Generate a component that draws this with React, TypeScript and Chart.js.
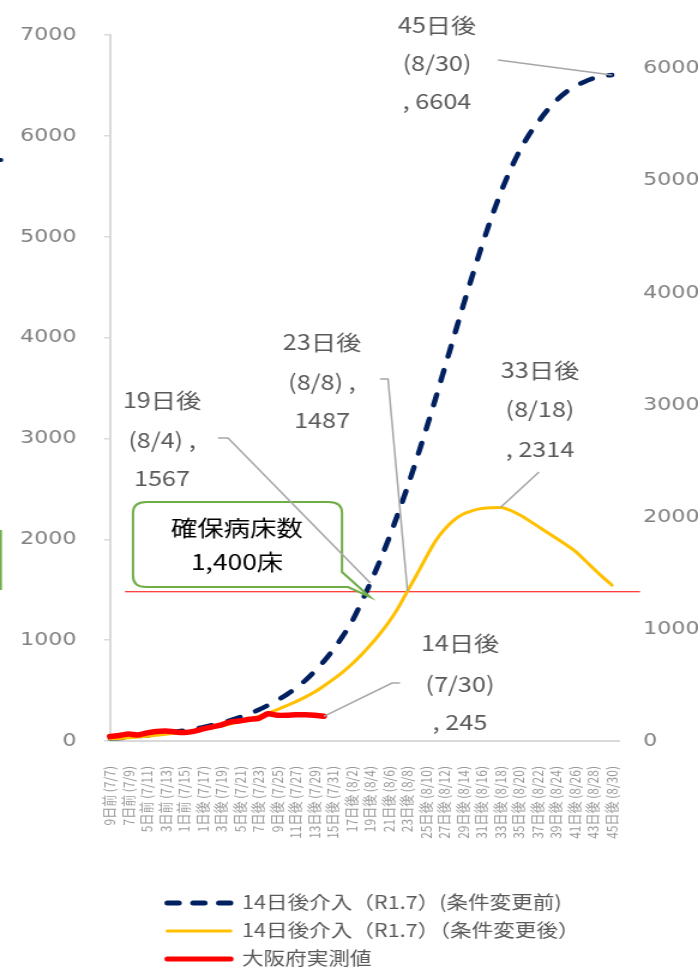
import React, { useEffect, useRef } from 'react';
import { Chart, registerables } from 'chart.js';

Chart.register(...registerables);

// ---------- data ----------
const CATEGORIES = [
  '9日前 (7/7)', '8日前 (7/8)', '7日前 (7/9)', '6日前 (7/10)', '5日前 (7/11)', '4日前 (7/12)', '3日前 (7/13)', '2日前 (7/14)', '1日前 (7/15)', '0日 (7/16)',
  '1日後 (7/17)', '2日後 (7/18)', '3日後 (7/19)', '4日後 (7/20)', '5日後 (7/21)', '6日後 (7/22)', '7日後 (7/23)', '8日後 (7/24)', '9日後 (7/25)', '10日後 (7/26)',
  '11日後 (7/27)', '12日後 (7/28)', '13日後 (7/29)', '14日後 (7/30)', '15日後 (7/31)', '16日後 (8/1)', '17日後 (8/2)', '18日後 (8/3)', '19日後 (8/4)', '20日後 (8/5)',
  '21日後 (8/6)', '22日後 (8/7)', '23日後 (8/8)', '24日後 (8/9)', '25日後 (8/10)', '26日後 (8/11)', '27日後 (8/12)', '28日後 (8/13)', '29日後 (8/14)', '30日後 (8/15)',
  '31日後 (8/16)', '32日後 (8/17)', '33日後 (8/18)', '34日後 (8/19)', '35日後 (8/20)', '36日後 (8/21)', '37日後 (8/22)', '38日後 (8/23)', '39日後 (8/24)', '40日後 (8/25)',
  '41日後 (8/26)', '42日後 (8/27)', '43日後 (8/28)', '44日後 (8/29)', '45日後 (8/30)',
];

// 14日後介入（R1.7）(条件変更前)
const BEFORE = [
  25, 30, 38, 47, 57, 68, 80, 92, 105, 120,
  137, 157, 180, 206, 236, 270, 310, 355, 405, 460,
  525, 600, 690, 790, 905, 1035, 1180, 1365, 1567, 1780,
  2010, 2260, 2520, 2800, 3090, 3390, 3700, 4010, 4320, 4620,
  4910, 5180, 5430, 5650, 5840, 6000, 6130, 6250, 6350, 6430,
  6490, 6535, 6570, 6592, 6604,
];

// 14日後介入（R1.7）（条件変更後）
const AFTER = [
  20, 25, 32, 40, 48, 57, 67, 78, 90, 103,
  117, 133, 150, 170, 192, 217, 245, 277, 312, 350,
  390, 435, 485, 545, 610, 680, 760, 850, 950, 1060,
  1180, 1320, 1487, 1650, 1820, 1980, 2100, 2190, 2250, 2285,
  2305, 2313, 2314, 2290, 2245, 2190, 2130, 2070, 2010, 1950,
  1885, 1800, 1710, 1625, 1545,
];

// 大阪府実測値
const ACTUAL = [
  45, 55, 70, 60, 80, 95, 100, 90, 85, 95,
  120, 140, 160, 190, 200, 215, 225, 270, 255, 255,
  260, 260, 255, 245,
];

const LEGEND_LABELS = [
  '14日後介入（R1.7）(条件変更前)',
  '14日後介入（R1.7）（条件変更後）',
  '大阪府実測値',
];

const LEFT_TICKS = [0, 1000, 2000, 3000, 4000, 5000, 6000, 7000];
const RIGHT_TICKS = [0, 1000, 2000, 3000, 4000, 5000, 6000];
const LEFT_MAX = 7000;
const RIGHT_MAX = 6300;
const BED_LINE_VALUE = 1480;
const CALLOUT_LINES = ['確保病床数', '1,400床'];

// ---------- layout helpers ----------
const CANVAS_W = 582;
const CANVAS_H = 967;
const S = 698 / CANVAS_W; // horizontal stretch of the picture
const px = (X: number) => X / S;

const NAVY = '#002060';
const YELLOW = '#ffc000';
const RED = '#ff0000';
const GREEN = '#70ad47';
const AXIS_GRAY = '#d9d9d9';
const TEXT_GRAY = '#595959';
const LEADER_GRAY = '#a6a6a6';
const JP = '"Noto Sans CJK JP", "Noto Sans", sans-serif';

type Ann = { ds: number; idx: number; lines: string[]; cx: number; ys: number[]; leader: number[][] };

const ANNOTATIONS: Ann[] = [
  { ds: 0, idx: 54, lines: ['45日後', '(8/30)', ', ' + BEFORE[54]], cx: 437, ys: [25, 63, 101], leader: [[498, 60]] },
  { ds: 1, idx: 32, lines: ['23日後', '(8/8) ,', String(AFTER[32])], cx: 322, ys: [342, 382, 420], leader: [[380, 379], [388, 379]] },
  { ds: 0, idx: 28, lines: ['19日後', '(8/4) ,', String(BEFORE[28])], cx: 162, ys: [400, 440, 478], leader: [[218, 438], [228, 438]] },
  { ds: 1, idx: 42, lines: ['33日後', '(8/18)', ', ' + AFTER[42]], cx: 540, ys: [370, 409, 449], leader: [[539, 472]] },
  { ds: 2, idx: 23, lines: ['14日後', '(7/30)', ', ' + ACTUAL[23]], cx: 460, ys: [643, 684, 722], leader: [[400, 683], [392, 683]] },
];

const overlayPlugin = {
  id: 'overlay',
  beforeDatasetsDraw(chart: any) {
    const ctx = chart.ctx as CanvasRenderingContext2D;
    const { left, bottom } = chart.chartArea;
    ctx.save();
    ctx.strokeStyle = AXIS_GRAY;
    ctx.lineWidth = 2;
    ctx.beginPath();
    ctx.moveTo(left, bottom);
    ctx.lineTo(px(620), bottom);
    ctx.stroke();
    const yb = chart.scales.y.getPixelForValue(BED_LINE_VALUE);
    ctx.strokeStyle = RED;
    ctx.lineWidth = 1.2;
    ctx.beginPath();
    ctx.moveTo(px(125), yb);
    ctx.lineTo(px(640), yb);
    ctx.stroke();
    ctx.restore();
  },
  afterDatasetsDraw(chart: any) {
    const ctx = chart.ctx as CanvasRenderingContext2D;
    ctx.save();

    // callout box
    const L = px(133), R = px(342), T = 502, B = 587, r = 11;
    ctx.beginPath();
    ctx.moveTo(L + r, T);
    ctx.lineTo(R - r, T);
    ctx.quadraticCurveTo(R, T, R, T + r);
    ctx.lineTo(R, 572);
    ctx.lineTo(px(370), 597);
    ctx.lineTo(px(348), B);
    ctx.lineTo(L + r, B);
    ctx.quadraticCurveTo(L, B, L, B - r);
    ctx.lineTo(L, T + r);
    ctx.quadraticCurveTo(L, T, L + r, T);
    ctx.closePath();
    ctx.fillStyle = '#ffffff';
    ctx.fill();
    ctx.strokeStyle = GREEN;
    ctx.lineWidth = 2;
    ctx.stroke();
    ctx.fillStyle = '#000000';
    ctx.font = `22px ${JP}`;
    ctx.textAlign = 'center';
    ctx.textBaseline = 'middle';
    ctx.fillText(CALLOUT_LINES[0], px(237), 528);
    ctx.fillText(CALLOUT_LINES[1], px(237), 562);

    // data labels with leaders
    ctx.font = `21px ${JP}`;
    ANNOTATIONS.forEach((a) => {
      const pt = chart.getDatasetMeta(a.ds).data[a.idx];
      ctx.strokeStyle = LEADER_GRAY;
      ctx.lineWidth = 1.5;
      ctx.beginPath();
      a.leader.forEach((p, i) => {
        if (i === 0) ctx.moveTo(px(p[0]), p[1]);
        else ctx.lineTo(px(p[0]), p[1]);
      });
      ctx.lineTo(pt.x, pt.y);
      ctx.stroke();
      ctx.fillStyle = TEXT_GRAY;
      a.lines.forEach((t, i) => ctx.fillText(t, px(a.cx), a.ys[i]));
    });

    // legend
    const lx0 = px(165), lx1 = px(233), tx = px(242);
    ctx.lineCap = 'round';
    ctx.strokeStyle = NAVY;
    ctx.lineWidth = 5;
    ctx.setLineDash([9.5, 12]);
    ctx.beginPath();
    ctx.moveTo(lx0 + 2, 903);
    ctx.lineTo(lx1, 903);
    ctx.stroke();
    ctx.setLineDash([]);
    ctx.strokeStyle = YELLOW;
    ctx.lineWidth = 3;
    ctx.beginPath();
    ctx.moveTo(lx0 + 2, 931);
    ctx.lineTo(lx1 - 2, 931);
    ctx.stroke();
    ctx.strokeStyle = RED;
    ctx.lineWidth = 5;
    ctx.beginPath();
    ctx.moveTo(lx0 + 2, 959);
    ctx.lineTo(lx1 - 2, 959);
    ctx.stroke();
    ctx.fillStyle = TEXT_GRAY;
    ctx.font = `18px ${JP}`;
    ctx.textAlign = 'left';
    ctx.fillText(LEGEND_LABELS[0], tx, 902);
    ctx.fillText(LEGEND_LABELS[1], tx, 930);
    ctx.fillText(LEGEND_LABELS[2], tx, 958);

    // clipped fragments of neighbouring shapes at the left edge
    ctx.fillStyle = GREEN;
    ctx.fillRect(0, 530, 1.6, 60);
    ctx.fillStyle = NAVY;
    ctx.beginPath();
    ctx.arc(0.8, 160, 2, 0, Math.PI * 2);
    ctx.fill();

    ctx.restore();
  },
};

export default function App() {
  const ref = useRef<HTMLCanvasElement>(null);
  useEffect(() => {
    const canvas = ref.current!;
    const yTickFont = { family: '"DejaVu Sans", sans-serif', size: 18.5 };
    const chart = new Chart(canvas, {
      type: 'line',
      data: {
        labels: CATEGORIES,
        datasets: [
          {
            label: LEGEND_LABELS[0], data: BEFORE, yAxisID: 'y', order: 2,
            borderColor: NAVY, backgroundColor: NAVY, borderWidth: 4.5, borderDash: [11, 14],
            borderCapStyle: 'round', pointRadius: 0, cubicInterpolationMode: 'monotone', fill: false,
          },
          {
            label: LEGEND_LABELS[1], data: AFTER, yAxisID: 'y', order: 1,
            borderColor: YELLOW, backgroundColor: YELLOW, borderWidth: 3,
            borderCapStyle: 'round', pointRadius: 0, cubicInterpolationMode: 'monotone', fill: false,
          },
          {
            label: LEGEND_LABELS[2], data: ACTUAL, yAxisID: 'y', order: 0,
            borderColor: RED, backgroundColor: RED, borderWidth: 5.5,
            borderCapStyle: 'round', borderJoinStyle: 'round', pointRadius: 0, tension: 0.2, fill: false,
          },
        ],
      } as any,
      options: {
        responsive: false,
        maintainAspectRatio: false,
        devicePixelRatio: 1,
        animation: false,
        events: [],
        layout: { padding: { top: 35, bottom: 96, left: 0, right: 0 } },
        plugins: { legend: { display: false }, tooltip: { enabled: false } },
        scales: {
          x: {
            type: 'category',
            offset: false,
            grid: { display: false },
            border: { display: false },
            ticks: {
              autoSkip: false,
              minRotation: 90,
              maxRotation: 90,
              padding: 17,
              color: '#999999',
              font: { family: JP, size: 12 },
              callback: (_v: any, i: number) => (i % 2 === 0 ? CATEGORIES[i] : ''),
            },
            afterFit: (s: any) => { s.height = 130; },
          },
          y: {
            position: 'left',
            min: 0,
            max: LEFT_MAX,
            afterBuildTicks: (s: any) => { s.ticks = LEFT_TICKS.map((v) => ({ value: v })); },
            ticks: { padding: 23, color: '#808080', font: yTickFont, callback: (v: any) => String(v) },
            grid: { drawOnChartArea: false, drawTicks: true, tickLength: 5, color: AXIS_GRAY, lineWidth: 1.5 },
            border: { display: true, color: AXIS_GRAY, width: 2 },
            afterFit: (s: any) => { s.width = px(110); },
          },
          y2: {
            position: 'right',
            min: 0,
            max: RIGHT_MAX,
            afterBuildTicks: (s: any) => { s.ticks = RIGHT_TICKS.map((v) => ({ value: v })); },
            ticks: { padding: 18, color: '#808080', font: yTickFont, callback: (v: any) => String(v) },
            grid: { display: false },
            border: { display: false },
            afterFit: (s: any) => { s.width = CANVAS_W - px(612); },
          },
        },
      } as any,
      plugins: [overlayPlugin],
    });
    return () => chart.destroy();
  }, []);

  return (
    <canvas
      ref={ref}
      width={CANVAS_W}
      height={CANVAS_H}
      style={{ position: 'absolute', left: 0, top: 0, width: '698px', height: '967px' }}
    />
  );
}
